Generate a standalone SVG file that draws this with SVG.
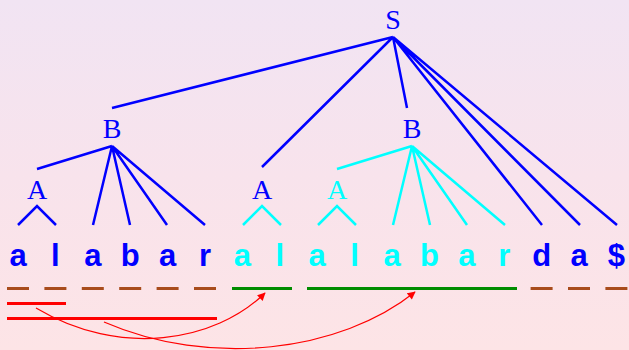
<svg xmlns="http://www.w3.org/2000/svg" width="629" height="350" viewBox="0 0 629 350">
<defs>
<linearGradient id="bg" x1="0" y1="0" x2="0" y2="1">
<stop offset="0" stop-color="#f1e4f3"/>
<stop offset="0.5" stop-color="#f8e3ec"/>
<stop offset="1" stop-color="#fde4e6"/>
</linearGradient>
<marker id="ah" viewBox="0 0 10 10" refX="9" refY="5" markerWidth="10" markerHeight="8" markerUnits="userSpaceOnUse" orient="auto">
<path d="M0,0 L10,5 L0,10 z" fill="#ff0000"/>
</marker>
<style>
.nt{font-family:"Liberation Serif","Times New Roman",serif;font-size:28px;text-anchor:middle}
.t{font-family:"Liberation Sans",Arial,sans-serif;font-weight:bold;font-size:31px;text-anchor:middle}
.b{stroke:#0000ff;stroke-width:2.5;fill:none}
.c{stroke:#00ffff;stroke-width:2.5;fill:none}
.dash{stroke:#a84c1c;stroke-width:3}
.grn{stroke:#008c00;stroke-width:3}
.red{stroke:#ff0000;stroke-width:3}
.arr{stroke:#ff0000;stroke-width:1.2;fill:none;marker-end:url(#ah)}
</style>
</defs>
<rect width="629" height="350" fill="url(#bg)"/>
<g id="connectors">
<path class="b" d="M393,37 L112,108 M393,37 L262,167 M393,37 L407,108 M393,37 L542,225 M393,37 L580,225 M393,37 L617,225"/>
<path class="b" d="M112,146 L37,169 M112,146 L93,225 M112,146 L130,225 M112,146 L167,225 M112,146 L205,225"/>
<path class="b" d="M18,225 L37,206 L56,225"/>
<path class="c" d="M243,225 L262,206 L281,225"/>
<path class="c" d="M412,146 L337,169 M412,146 L393,225 M412,146 L430,225 M412,146 L467,225 M412,146 L505,225"/>
<path class="c" d="M318,225 L337,206 L356,225"/>
<path class="arr" d="M36,308 C120,358 215,342 265,293"/>
<path class="arr" d="M104,322 C210,368 340,352 415,292"/>
</g>
<g id="S"><text class="nt" x="393" y="29" fill="#0000ff">S</text></g>
<g id="B1"><text class="nt" x="112" y="138" fill="#0000ff">B</text></g>
<g id="B2"><text class="nt" x="412" y="138" fill="#0000ff">B</text></g>
<g id="A1"><text class="nt" x="37" y="199" fill="#0000ff">A</text></g>
<g id="A2"><text class="nt" x="262" y="199" fill="#0000ff">A</text></g>
<g id="A3"><text class="nt" x="337" y="199" fill="#00ffff">A</text></g>
<g id="string">
<text class="t" y="266" fill="#0000ff"><tspan x="18">a</tspan><tspan x="55.4">l</tspan><tspan x="92.8">a</tspan><tspan x="130.2">b</tspan><tspan x="167.6">a</tspan><tspan x="205">r</tspan></text>
<text class="t" y="266" fill="#00ffff"><tspan x="242.4">a</tspan><tspan x="279.8">l</tspan><tspan x="317.2">a</tspan><tspan x="354.6">l</tspan><tspan x="392">a</tspan><tspan x="429.4">b</tspan><tspan x="466.8">a</tspan><tspan x="504.2">r</tspan></text>
<text class="t" y="266" fill="#0000ff"><tspan x="541.6">d</tspan><tspan x="579">a</tspan><tspan x="616.4">$</tspan></text>
</g>
<g id="underlines">
<path class="dash" d="M7,288.5 H29 M44.4,288.5 H66.4 M81.8,288.5 H103.8 M119.2,288.5 H141.2 M156.6,288.5 H178.6 M194,288.5 H216 M530.6,288.5 H552.6 M568,288.5 H590 M605.4,288.5 H627.4"/>
<path class="grn" d="M232,288.5 H292 M307,288.5 H517"/>
<path class="red" d="M7,303.5 H66 M7,318.5 H217"/>
</g>
</svg>
